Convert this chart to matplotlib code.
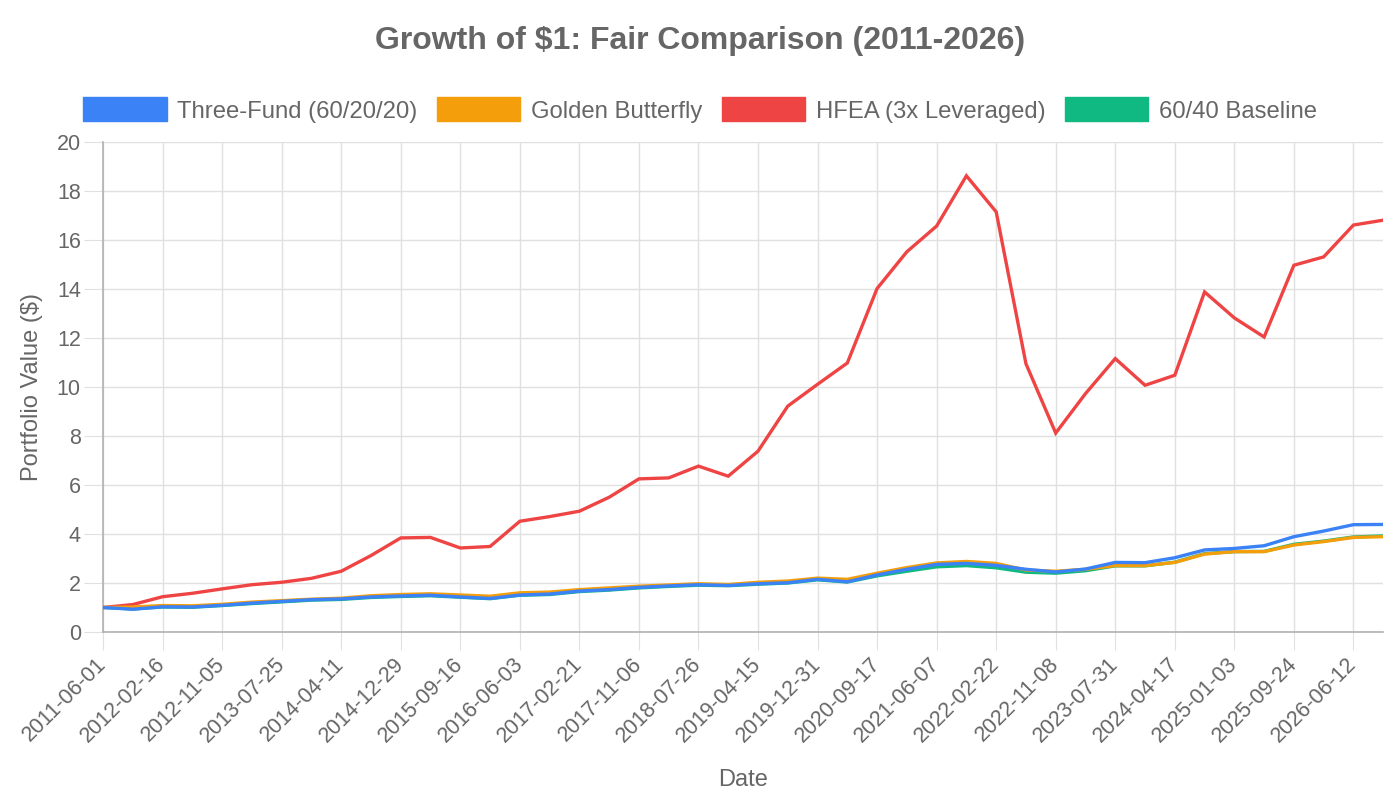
import matplotlib.pyplot as plt
from matplotlib.patches import Rectangle

plt.rcParams['font.family'] = ['Liberation Sans', 'DejaVu Sans']

# Fechas (eje de categorías)
dates = ['2011-06-01', '2011-10-08', '2012-02-16', '2012-06-26', '2012-11-05', '2013-03-16',
         '2013-07-25', '2013-12-02', '2014-04-11', '2014-08-20', '2014-12-29', '2015-05-08',
         '2015-09-16', '2016-01-24', '2016-06-03', '2016-10-12', '2017-02-21', '2017-06-30',
         '2017-11-06', '2018-03-16', '2018-07-26', '2018-12-05', '2019-04-15', '2019-08-23',
         '2019-12-31', '2020-05-09', '2020-09-17', '2021-01-26', '2021-06-07', '2021-10-15',
         '2022-02-22', '2022-07-01', '2022-11-08', '2023-03-21', '2023-07-31', '2023-12-08',
         '2024-04-17', '2024-08-25', '2025-01-03', '2025-05-15', '2025-09-24', '2026-01-31',
         '2026-06-12', '2026-10-20']

# Valores de cada cartera
three_fund = [1.00, 0.93, 1.03, 1.02, 1.09, 1.18, 1.25, 1.32, 1.35, 1.43, 1.47, 1.50,
              1.43, 1.37, 1.51, 1.55, 1.67, 1.73, 1.82, 1.88, 1.93, 1.90, 1.97, 2.01,
              2.15, 2.05, 2.33, 2.56, 2.76, 2.80, 2.72, 2.56, 2.45, 2.57, 2.84, 2.83,
              3.03, 3.35, 3.41, 3.52, 3.89, 4.12, 4.38, 4.39]
golden_butterfly = [1.00, 1.02, 1.08, 1.07, 1.13, 1.22, 1.28, 1.34, 1.38, 1.48, 1.53, 1.56,
                    1.51, 1.46, 1.60, 1.63, 1.73, 1.80, 1.87, 1.92, 1.97, 1.94, 2.03, 2.08,
                    2.20, 2.15, 2.40, 2.63, 2.82, 2.88, 2.80, 2.53, 2.48, 2.56, 2.71, 2.71,
                    2.84, 3.18, 3.28, 3.28, 3.55, 3.69, 3.86, 3.89]
hfea = [1.00, 1.12, 1.44, 1.58, 1.76, 1.93, 2.03, 2.19, 2.48, 3.12, 3.84, 3.86,
        3.43, 3.49, 4.52, 4.71, 4.93, 5.50, 6.25, 6.29, 6.77, 6.36, 7.38, 9.22,
        10.11, 10.98, 14.02, 15.52, 16.57, 18.62, 17.15, 10.95, 8.12, 9.73, 11.16, 10.07,
        10.48, 13.88, 12.82, 12.04, 14.97, 15.31, 16.61, 16.81]
baseline_6040 = [1.00, 0.94, 1.02, 1.01, 1.08, 1.16, 1.23, 1.30, 1.33, 1.41, 1.45, 1.48,
                 1.42, 1.36, 1.50, 1.53, 1.65, 1.71, 1.80, 1.86, 1.91, 1.89, 1.95, 2.00,
                 2.13, 2.04, 2.29, 2.48, 2.66, 2.71, 2.62, 2.44, 2.40, 2.50, 2.70, 2.70,
                 2.85, 3.20, 3.28, 3.29, 3.58, 3.71, 3.88, 3.92]

series = [
    ('Three-Fund (60/20/20)', three_fund, '#3b82f6', 5),
    ('Golden Butterfly', golden_butterfly, '#f59e0b', 4),
    ('HFEA (3x Leveraged)', hfea, '#ef4444', 3),
    ('60/40 Baseline', baseline_6040, '#10b981', 2),
]

gris = '#666666'

fig = plt.figure(figsize=(14, 8), dpi=100)
ax = fig.add_axes([0.0736, 0.21, 0.9144, 0.6125])

x = list(range(len(dates)))
handles = []
for nombre, vals, color, z in series:
    ax.plot(x, vals, color=color, linewidth=2.4, zorder=z, solid_joinstyle='miter')
    handles.append(Rectangle((0, 0), 1, 1, facecolor=color, edgecolor=color, label=nombre))

ax.set_xlim(0, len(dates) - 1)
ax.set_ylim(0, 20)
ax.set_yticks(range(0, 21, 2))
ax.set_xticks(x[::2])
ax.set_xticklabels(dates[::2], rotation=45, ha='right', va='center', rotation_mode='anchor')

ax.grid(True, color='#e0e0e0', linewidth=1)
ax.set_axisbelow(True)
for lado in ['top', 'right']:
    ax.spines[lado].set_visible(False)
for lado in ['left', 'bottom']:
    ax.spines[lado].set_color('#b0b0b0')
    ax.spines[lado].set_linewidth(1.2)
ax.tick_params(axis='both', colors='#e0e0e0', labelcolor=gris, labelsize=15.5)
ax.tick_params(axis='y', length=14, pad=2)
ax.tick_params(axis='x', length=13, pad=8)

ax.set_xlabel('Date', fontsize=17, color=gris, labelpad=16)
ax.set_ylabel('Portfolio Value ($)', fontsize=17, color=gris, labelpad=10)

fig.text(0.5, 0.949, 'Growth of $1: Fair Comparison (2011-2026)', ha='center', va='center',
         fontsize=23, fontweight='bold', color=gris)

leg = fig.legend(handles=handles, loc='center', bbox_to_anchor=(0.5, 0.8625), ncol=4,
                 frameon=False, fontsize=17.2, handlelength=3.5, handleheight=1.17,
                 handletextpad=0.45, columnspacing=0.8)
for t in leg.get_texts():
    t.set_color(gris)

fig.savefig('out.png', dpi=100)
